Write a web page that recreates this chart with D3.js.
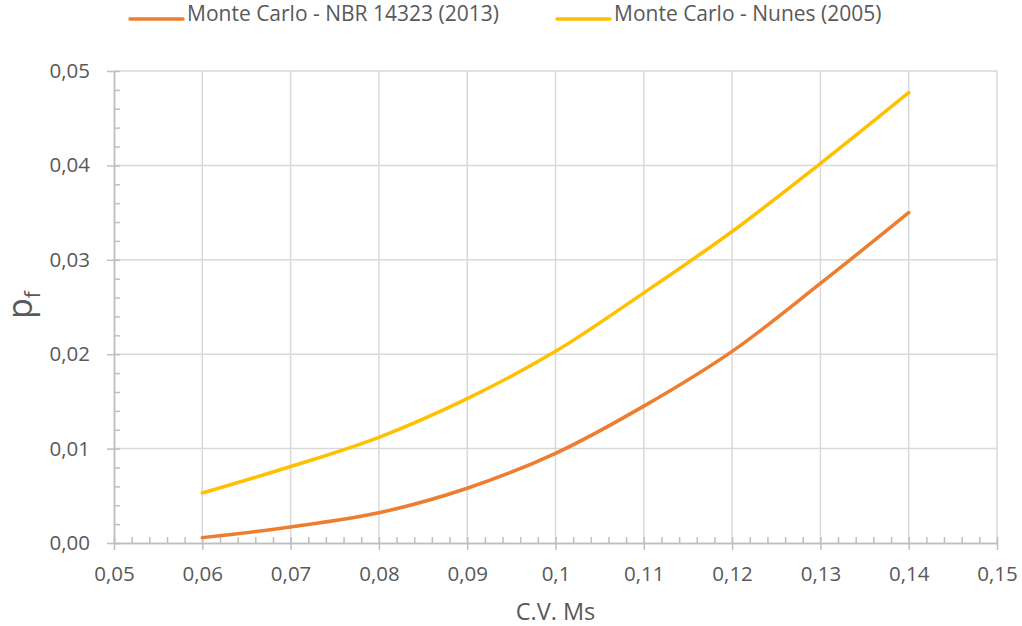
<!DOCTYPE html>
<html>
<head>
<meta charset="utf-8">
<script src="https://cdn.jsdelivr.net/npm/d3@7"></script>
<style>
  body { margin: 0; background: #fff; }
  text { font-family: "Open Sans", sans-serif; fill: #595959; }
</style>
</head>
<body>
<svg width="1022" height="626"></svg>
<script>
// data
const cv = [0.06, 0.07, 0.08, 0.09, 0.10, 0.11, 0.12, 0.13, 0.14];
const pfNBR = [0.00057, 0.0017, 0.0032, 0.0058, 0.0095, 0.0145, 0.0203, 0.0275, 0.0350];
const pfNunes = [0.0053, 0.0081, 0.0112, 0.0153, 0.0203, 0.0265, 0.0330, 0.0402, 0.0477];
const seriesNames = ["Monte Carlo - NBR 14323 (2013)", "Monte Carlo - Nunes (2005)"];
const seriesColors = ["#ED7D31", "#FFC000"];
const xTicks = [0.05, 0.06, 0.07, 0.08, 0.09, 0.10, 0.11, 0.12, 0.13, 0.14, 0.15];
const xTickLabels = ["0,05", "0,06", "0,07", "0,08", "0,09", "0,1", "0,11", "0,12", "0,13", "0,14", "0,15"];
const yTicks = [0, 0.01, 0.02, 0.03, 0.04, 0.05];
const yTickLabels = ["0,00", "0,01", "0,02", "0,03", "0,04", "0,05"];

const svg = d3.select("svg");
const margin = { top: 71, right: 25, bottom: 83, left: 114 };
const W = 1022, H = 626;

const x = d3.scaleLinear().domain([0.05, 0.15]).range([margin.left, W - margin.right]);
const y = d3.scaleLinear().domain([0, 0.05]).range([H - margin.bottom, margin.top]);

const xMinor = d3.range(0.05, 0.1501, 0.002);
const yMinor = d3.range(0, 0.0501, 0.002);

// grid
const grid = svg.append("g");
grid.selectAll(".vg").data(xTicks.slice(1)).enter().append("line")
    .attr("x1", d => x(d)).attr("x2", d => x(d))
    .attr("y1", y(0)).attr("y2", y(0.05))
    .attr("stroke", "#d9d9d9").attr("stroke-width", 1.5);
grid.selectAll(".hg").data(yTicks.slice(1)).enter().append("line")
    .attr("x1", x(0.05)).attr("x2", x(0.15))
    .attr("y1", d => y(d)).attr("y2", d => y(d))
    .attr("stroke", "#d9d9d9").attr("stroke-width", 1.5);

// axes
function styleAxis(g) {
    g.select(".domain").attr("stroke", "#bfbfbf").attr("stroke-width", 1.5);
    g.selectAll(".tick line").attr("stroke", "#bfbfbf").attr("stroke-width", 1.5);
}

svg.append("g")
    .attr("transform", `translate(0,${y(0)})`)
    .call(d3.axisTop(x).tickValues(xMinor).tickSize(6).tickSizeOuter(0).tickFormat(""))
    .call(styleAxis);
svg.append("g")
    .attr("transform", `translate(${x(0.05)},0)`)
    .call(d3.axisRight(y).tickValues(yMinor).tickSize(6).tickSizeOuter(0).tickFormat(""))
    .call(styleAxis);

const xAxis = svg.append("g")
    .attr("transform", `translate(0,${y(0)})`)
    .call(d3.axisBottom(x).tickValues(xTicks).tickSize(7).tickSizeOuter(0)
        .tickPadding(16).tickFormat((d, i) => xTickLabels[i]))
    .call(styleAxis);
xAxis.selectAll("text").attr("font-size", 20.5).attr("fill", "#595959").attr("font-family", "Open Sans, sans-serif");

const yAxis = svg.append("g")
    .attr("transform", `translate(${x(0.05)},0)`)
    .call(d3.axisLeft(y).tickValues(yTicks).tickSize(7).tickSizeOuter(0)
        .tickPadding(17).tickFormat((d, i) => yTickLabels[i]))
    .call(styleAxis);
yAxis.selectAll("text").attr("font-size", 20.5).attr("fill", "#595959").attr("font-family", "Open Sans, sans-serif");

// lines
const line = d3.line()
    .x(d => x(d[0]))
    .y(d => y(d[1]))
    .curve(d3.curveCatmullRom.alpha(0.5));

[pfNBR, pfNunes].forEach((vals, i) => {
    svg.append("path")
        .datum(cv.map((c, j) => [c, vals[j]]))
        .attr("d", line)
        .attr("fill", "none")
        .attr("stroke", seriesColors[i])
        .attr("stroke-width", 3.5)
        .attr("stroke-linecap", "round");
});

// axis titles
svg.append("text")
    .attr("x", (x(0.05) + x(0.15)) / 2)
    .attr("y", 620)
    .attr("text-anchor", "middle")
    .attr("font-size", 23.5)
    .text("C.V. Ms");

const yt = svg.append("text")
    .attr("transform", "translate(32,305) rotate(-90)")
    .attr("text-anchor", "middle")
    .attr("font-size", 34);
yt.append("tspan").text("p");
yt.append("tspan").attr("font-size", 21).attr("dy", 8).text("f");

// legend
const legendX = [130, 557];
seriesNames.forEach((name, i) => {
    const g = svg.append("g").attr("transform", `translate(${legendX[i]},19)`);
    g.append("line").attr("x1", 0).attr("x2", 53)
        .attr("stroke", seriesColors[i]).attr("stroke-width", 3.5).attr("stroke-linecap", "round");
    g.append("text").attr("x", 57).attr("y", 1.5).attr("font-size", 21).text(name);
});
</script>
</body>
</html>
